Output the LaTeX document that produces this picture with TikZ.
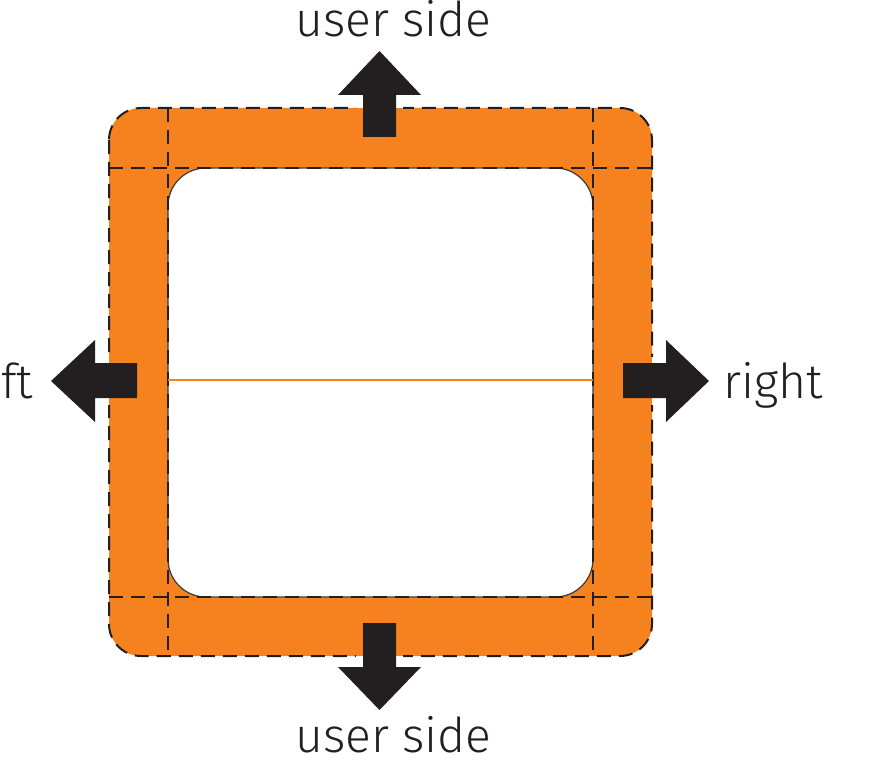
\documentclass[tikz,border=0pt]{standalone}
\usepackage{fontspec}
\setmainfont{Fira Sans Light}
\definecolor{boxorange}{HTML}{F5821F}
\definecolor{arrowdark}{HTML}{231F20}
\definecolor{edgegray}{HTML}{3A3A3A}
\tikzset{
  dashline/.style={draw=arrowdark, line width=2pt, dash pattern=on 14pt off 8pt},
  fatarrow/.style={fill=arrowdark, draw=none},
  label/.style={font=\fontsize{48}{50}\selectfont, text=arrowdark, inner sep=0pt, text depth=0pt},
}
\begin{document}
\begin{tikzpicture}[x=1pt,y=-1pt]
\useasboundingbox (0,0) rectangle (872,762);
\clip (0,0) rectangle (872,762);
% outer orange frame
\fill[boxorange, rounded corners=32pt] (109,108) rectangle (652,656);
% inner white opening
\draw[fill=white, draw=edgegray, line width=1.2pt, rounded corners=38pt] (168,168) rectangle (593,597);
% dashed outline and cut lines
\draw[dashline, rounded corners=32pt] (109,108) rectangle (652,656);
\draw[dashline] (109,168) -- (652,168);
\draw[dashline] (109,597) -- (652,597);
\draw[dashline] (168,108) -- (168,656);
\draw[dashline] (593,108) -- (593,656);
% middle orange line
\draw[boxorange, line width=2pt] (168,380) -- (593,380);
% gaps of the outline around the arrow shafts
\fill[white] (356,104) rectangle (403,108);
\fill[boxorange] (356,108) rectangle (403,112);
\fill[white] (356,656) rectangle (403,660);
\fill[boxorange] (356,652) rectangle (403,656);
\fill[white] (105,357) rectangle (109,405);
\fill[boxorange] (109,357) rectangle (113,405);
\fill[white] (652,357) rectangle (656,405);
\fill[boxorange] (648,357) rectangle (652,405);
% arrows
\fill[fatarrow] (363,137) -- (363,95) -- (338,95) -- (379.5,51) -- (421,95) -- (396,95) -- (396,137) -- cycle;
\fill[fatarrow] (363,623) -- (363,667) -- (338,667) -- (379.5,710) -- (421,667) -- (396,667) -- (396,623) -- cycle;
\fill[fatarrow] (137,363) -- (95,363) -- (95,340) -- (51,381) -- (95,422) -- (95,398) -- (137,398) -- cycle;
\fill[fatarrow] (623,363) -- (666,363) -- (666,340) -- (709,381) -- (666,422) -- (666,398) -- (623,398) -- cycle;
% labels
\node[label, anchor=base] (top) at (393.5,37) {user side};
\node[label, anchor=base] (bottom) at (393.5,752) {user side};
\node[label, anchor=base west] (right) at (723,398) {right};
\node[label, anchor=base east] (left) at (33,398) {left};
\end{tikzpicture}
\end{document}
